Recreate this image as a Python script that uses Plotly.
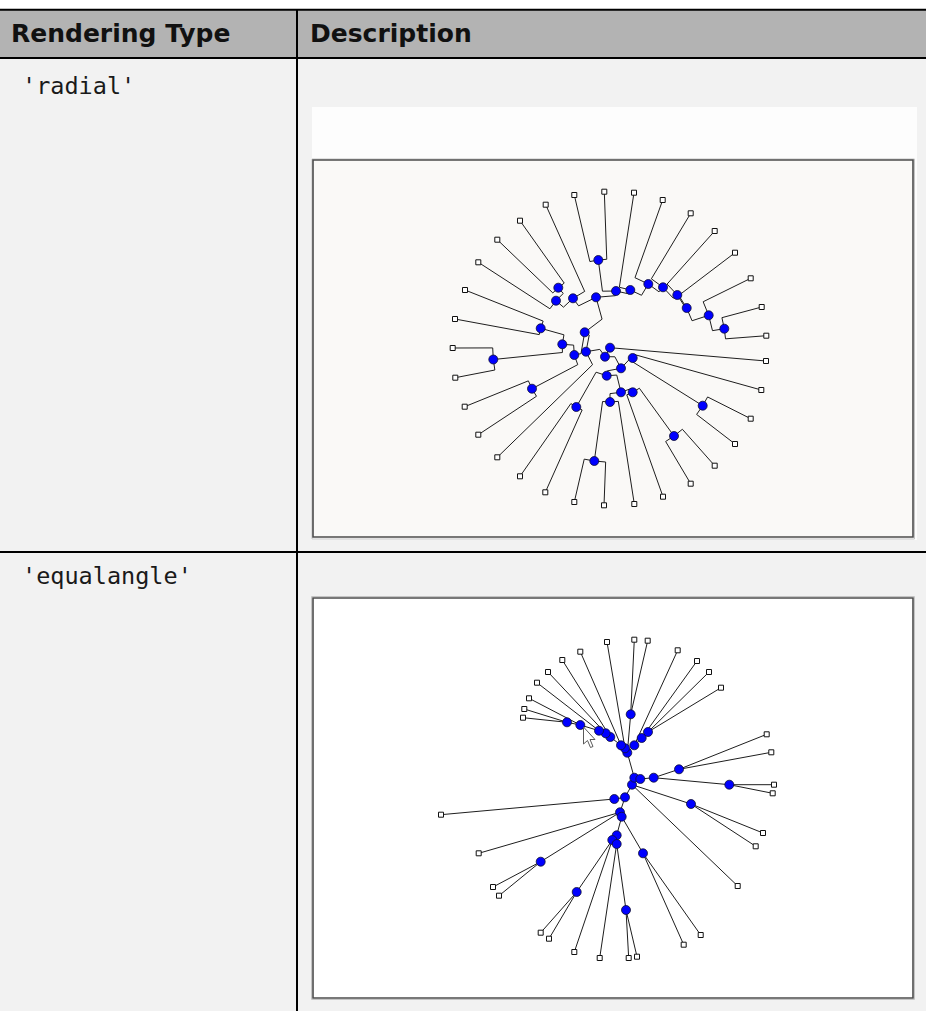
"""
Two phylogenetic tree renderings ('radial' and 'equalangle') laid out in a
two-column documentation table.
"""
import math

import plotly.graph_objects as go

W, H = 926, 1011

# ---- radial tree: internal nodes (root first), leaves, parent links ----
RADIAL_NODE_X = [610, 605, 586, 584.7, 596, 616, 598.3, 630.3, 648.3, 663, 677.3,
                 686.7, 708.7, 724.3, 573, 556, 558.3, 574.3, 562.3, 540.7, 493.3,
                 532, 621, 606.7, 621, 610, 594.3, 632.7, 674, 576.3, 632.7, 702.7]
RADIAL_NODE_Y = [347.7, 356.7, 351.7, 332.3, 297.3, 291, 260, 290, 284, 287.3, 295,
                 308, 315.3, 328.7, 298.3, 300.7, 287.7, 355, 344.3, 328.3, 359.5,
                 388.7, 368.3, 375.7, 392.3, 402, 461, 392.3, 436, 407, 358, 405.7]
RADIAL_NODE_PARENT = [-1, 0, 1, 2, 3, 4, 5, 5, 7, 8, 9, 10, 11, 12, 4, 14, 15, 3,
                      17, 18, 18, 17, 1, 22, 23, 24, 25, 24, 27, 23, 22, 30]

RADIAL_LEAF_X = [574.3, 604.3, 634, 662.7, 690.7, 714.7, 735, 750.7, 761.7, 766.3,
                 766, 761.3, 750.7, 735, 714.7, 690.7, 663, 634.3, 604, 574.3, 545.3,
                 520, 497.3, 478.3, 464.7, 455.3, 452.7, 455, 465, 478.3, 497.3, 520,
                 545.7]
RADIAL_LEAF_Y = [195, 191.7, 192.7, 200, 213.3, 231, 252.7, 278.3, 307, 335.7, 361,
                 390, 418.7, 444, 465.7, 483.7, 496.7, 504, 505.3, 502, 492.3, 476.3,
                 457.3, 434.7, 406.7, 377.7, 348, 319, 290, 262.3, 239.7, 220.7, 204.7]
RADIAL_LEAF_PARENT = [6, 6, 7, 8, 9, 10, 11, 12, 13, 13, 0, 30, 31, 31, 28, 28, 27,
                      25, 26, 26, 29, 29, 2, 21, 21, 20, 20, 19, 19, 15, 16, 16, 14]

# ---- equal-angle tree ----
EQ_NODE_X = [625, 632, 634.3, 627.3, 625, 621, 610.3, 605.7, 599, 580.3, 567, 630.7,
             634.3, 641.7, 648, 640.3, 653.7, 679, 729.3, 691, 614.3, 620, 621.7,
             616.7, 612.3, 616.7, 540.7, 576.7, 626, 643]
EQ_NODE_Y = [797.3, 784.7, 777.7, 752.7, 748.3, 745.3, 737, 733.3, 730.7, 725, 722.3,
             714.3, 745.3, 738, 732, 779, 777.7, 769.3, 784.7, 804, 799, 812.3, 816.7,
             835.3, 840, 844, 861.7, 892, 910, 853.3]
EQ_NODE_PARENT = [-1, 0, 1, 2, 3, 4, 5, 6, 7, 8, 9, 3, 3, 12, 13, 2, 15, 16, 16, 1,
                  0, 0, 21, 22, 23, 23, 21, 24, 25, 22]

EQ_LEAF_X = [607, 634.3, 647.7, 677.7, 697, 709, 721, 580.3, 562.3, 548, 537, 529,
             524.3, 523, 766.7, 771.3, 774, 772.7, 441, 478.7, 763, 755.7, 737.7, 493,
             499, 540.7, 549, 574.3, 599.7, 628.7, 637, 683.7, 700.7]
EQ_LEAF_Y = [642, 639.7, 640.7, 650.3, 661, 672, 687.7, 651.7, 660, 672, 682.7, 698.3,
             709, 717.7, 734.3, 752.3, 784.7, 793.3, 814.7, 853.3, 833, 846.3, 886, 887,
             895.7, 932.7, 938.7, 952, 958, 958, 956.7, 944.7, 935]
EQ_LEAF_PARENT = [4, 11, 11, 12, 13, 14, 14, 5, 6, 7, 8, 9, 10, 10, 17, 17, 18, 18,
                  20, 21, 19, 19, 1, 26, 26, 27, 27, 24, 25, 28, 28, 29, 29]

ROW_LABELS = ["'radial'", "'equalangle'"]
HEADERS = ["Rendering Type", "Description"]

LINE_COLOR = "#1e1e1e"
NODE_COLOR = "#0000ff"


def px(x):
    return x / W


def py(y):
    return 1 - y / H


def radial_edges():
    """Arc (drawn straight) at the parent's radius, then radially out to the child."""
    rx, ry = RADIAL_NODE_X[0], RADIAL_NODE_Y[0]
    children = [(RADIAL_NODE_X[i], RADIAL_NODE_Y[i], p)
                for i, p in enumerate(RADIAL_NODE_PARENT) if p >= 0]
    children += list(zip(RADIAL_LEAF_X, RADIAL_LEAF_Y, RADIAL_LEAF_PARENT))
    xs, ys = [], []
    for cx, cy, p in children:
        pxn, pyn = RADIAL_NODE_X[p], RADIAL_NODE_Y[p]
        r_p = math.hypot(pxn - rx, pyn - ry)
        a_c = math.atan2(cy - ry, cx - rx)
        ex, ey = rx + r_p * math.cos(a_c), ry + r_p * math.sin(a_c)
        xs += [pxn, ex, cx, None]
        ys += [pyn, ey, cy, None]
    return xs, ys


def straight_edges():
    children = [(EQ_NODE_X[i], EQ_NODE_Y[i], p)
                for i, p in enumerate(EQ_NODE_PARENT) if p >= 0]
    children += list(zip(EQ_LEAF_X, EQ_LEAF_Y, EQ_LEAF_PARENT))
    xs, ys = [], []
    for cx, cy, p in children:
        xs += [EQ_NODE_X[p], cx, None]
        ys += [EQ_NODE_Y[p], cy, None]
    return xs, ys


def add_tree(fig, edges, leaf_x, leaf_y, node_x, node_y, xa, ya):
    ex, ey = edges
    fig.add_trace(go.Scatter(x=ex, y=ey, mode="lines", xaxis=xa, yaxis=ya,
                             line=dict(color=LINE_COLOR, width=1), hoverinfo="skip"))
    fig.add_trace(go.Scatter(x=leaf_x, y=leaf_y, mode="markers", xaxis=xa, yaxis=ya,
                             marker=dict(symbol="square", size=5, color="white",
                                         line=dict(color="#111111", width=1))))
    fig.add_trace(go.Scatter(x=node_x, y=node_y, mode="markers", xaxis=xa, yaxis=ya,
                             marker=dict(symbol="circle", size=9, color=NODE_COLOR,
                                         line=dict(color="#101030", width=0.8))))


def rect(x0, y0, x1, y1, fill=None, line=None, width=0):
    return dict(type="rect", xref="paper", yref="paper", layer="below",
                x0=px(x0), x1=px(x1), y0=py(y1), y1=py(y0),
                fillcolor=fill or "rgba(0,0,0,0)",
                line=dict(color=line or "rgba(0,0,0,0)", width=width))


def hline(y, x0=0, x1=W, width=2):
    return dict(type="line", xref="paper", yref="paper", layer="above",
                x0=px(x0), x1=px(x1), y0=py(y), y1=py(y),
                line=dict(color="black", width=width))


fig = go.Figure()
add_tree(fig, radial_edges(), RADIAL_LEAF_X, RADIAL_LEAF_Y,
         RADIAL_NODE_X, RADIAL_NODE_Y, "x", "y")
add_tree(fig, straight_edges(), EQ_LEAF_X, EQ_LEAF_Y,
         EQ_NODE_X, EQ_NODE_Y, "x2", "y2")

shapes = [
    rect(0, 58, W, H, fill="#f2f2f2"),
    rect(0, 10, W, 58, fill="#b3b3b3"),
    # radial picture: white strip + framed panel
    rect(312, 107, 917, 540, fill="#fdfdfd"),
    rect(312, 159, 914.5, 539, line="#c4c4c4", width=1),
    rect(313, 160, 913, 537, fill="#faf9f7", line="#4c4c4c", width=1.6),
    # equalangle picture
    rect(311.5, 596.5, 914.5, 999.5, fill="#ffffff", line="#c4c4c4", width=1),
    rect(313, 598, 913, 998, fill="#ffffff", line="#4c4c4c", width=1.6),
    hline(9.8),
    hline(58),
    hline(552),
    dict(type="line", xref="paper", yref="paper", layer="above",
         x0=px(297), x1=px(297), y0=py(9), y1=py(H),
         line=dict(color="black", width=2)),
    # mouse pointer caught in the screenshot
    dict(type="path", xref="x2", yref="y2", layer="above",
         path="M 583.5 727 L 583.5 744 L 587.5 740.5 L 590.5 747.5 L 593 746.5 "
              "L 590 739.5 L 595 739.5 Z",
         fillcolor="white", line=dict(color="#5a5a5a", width=1)),
]

annotations = [
    dict(x=px(9), y=py(33.5), text=f"<b>{HEADERS[0]}</b>"),
    dict(x=px(308), y=py(33.5), text=f"<b>{HEADERS[1]}</b>"),
]
for a in annotations:
    a.update(xref="paper", yref="paper", xanchor="left", yanchor="middle",
             showarrow=False, font=dict(family="DejaVu Sans", size=25, color="#111111"))
for label, y in zip(ROW_LABELS, [86, 576]):
    annotations.append(dict(x=px(20), y=py(y), xref="paper", yref="paper",
                            xanchor="left", yanchor="middle", showarrow=False,
                            text=label,
                            font=dict(family="DejaVu Sans Mono", size=23.5,
                                      color="#1a1a1a")))

hidden = dict(visible=False, showgrid=False, zeroline=False, fixedrange=True)
fig.update_layout(
    width=W, height=H,
    margin=dict(l=0, r=0, t=0, b=0),
    paper_bgcolor="white",
    plot_bgcolor="rgba(0,0,0,0)",
    showlegend=False,
    xaxis=dict(domain=[px(313), px(913)], range=[313, 913], **hidden),
    yaxis=dict(domain=[py(537), py(160)], range=[537, 160], **hidden),
    xaxis2=dict(domain=[px(313), px(913)], range=[313, 913], **hidden),
    yaxis2=dict(domain=[py(998), py(598)], range=[998, 598], **hidden),
    shapes=shapes,
    annotations=annotations,
)

fig.write_html("out.html", config={"displayModeBar": False},
               post_script="document.body.style.margin = '0';")
